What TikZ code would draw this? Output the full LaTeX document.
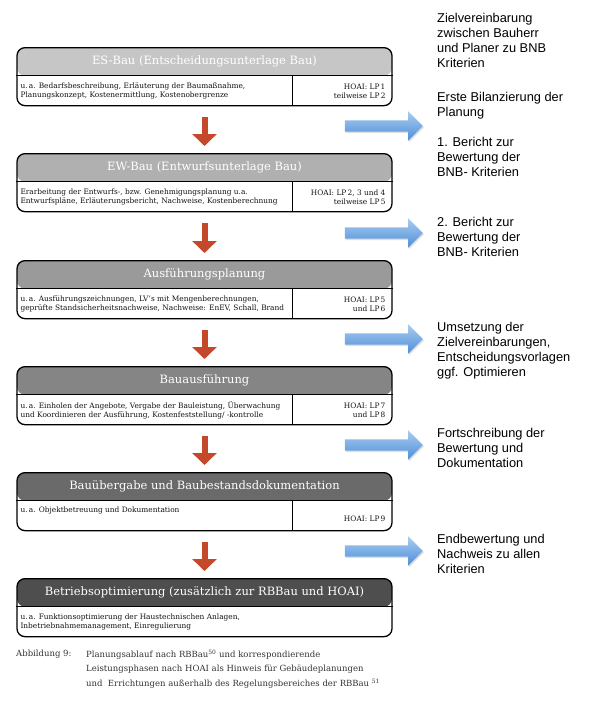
\documentclass[tikz,border=0pt]{standalone}
\usepackage{fontspec}
\setmainfont{DejaVu Serif}
\newfontfamily\arialfont{Liberation Sans}
\usetikzlibrary{arrows.meta, shapes.arrows, shadows}

\definecolor{grau1}{HTML}{C6C6C6}
\definecolor{grau2}{HTML}{B0B0B0}
\definecolor{grau3}{HTML}{9A9A9A}
\definecolor{grau4}{HTML}{858585}
\definecolor{grau5}{HTML}{6A6A6A}
\definecolor{grau6}{HTML}{4E4E4E}
\definecolor{rot}{HTML}{C4492B}
\definecolor{blauhell}{HTML}{A9CDF1}
\definecolor{blaudunkel}{HTML}{4E8ED8}
\definecolor{schrift}{HTML}{111111}

\begin{document}
\begin{tikzpicture}[x=1pt, y=-1pt,
	phase/.style={draw, line width=1.3pt, rounded corners=8pt, fill=white, minimum width=375pt, minimum height=58pt, inner sep=0pt,
		path picture={\fill[#1] (path picture bounding box.north west) rectangle ([yshift=-28pt]path picture bounding box.north east);}},
	linie/.style={line width=1pt},
	titel/.style={text=white, font=\fontsize{11.5}{13}\selectfont},
	links/.style={anchor=west, align=left, inner sep=1pt, text=schrift, font=\fontsize{7.4}{9.2}\selectfont},
	rechts/.style={anchor=east, align=right, inner sep=1pt, text=schrift, font=\fontsize{7.4}{9.2}\selectfont},
	rotpfeil/.style={draw=rot, line width=6pt, -{Triangle[width=24pt, length=12pt]}, shorten <=11pt, shorten >=7pt},
	blaupfeil/.style={single arrow, draw=none, top color=blauhell, bottom color=blaudunkel, minimum height=78pt, inner sep=5.5pt, single arrow head extend=9pt,
		drop shadow={opacity=0.25, shadow xshift=1pt, shadow yshift=-1.5pt}},
	ziel/.style={anchor=north west, align=left, inner sep=0pt, text=black, font=\arialfont\fontsize{12.8}{15}\selectfont},
	unterschrift/.style={anchor=north west, align=left, inner sep=0pt, text=black!80, font=\fontsize{8.5}{14.5}\selectfont}]

	\useasboundingbox (0,0) rectangle (600,704);

	% Phasen
	\node [phase=grau1, anchor=north] (es) at (204.5,47) {};
	\node [titel] (es-titel) at ([yshift=-14pt]es.north) {ES-Bau (Entscheidungsunterlage Bau)};
	\draw [linie] ([yshift=-28pt]es.north west) -- ([yshift=-28pt]es.north east);
	\draw [linie] ([xshift=-100pt, yshift=-28pt]es.north east) -- ([xshift=-100pt]es.south east);
	\node [links] (es-text) at ([xshift=3pt, yshift=15pt]es.south west) {u.\,a. Bedarfsbeschreibung, Erläuterung der Baumaßnahme,\\Planungskonzept, Kostenermittlung, Kostenobergrenze};
	\node [rechts] (es-hoai) at ([xshift=-6pt, yshift=15pt]es.south east) {HOAI: LP\,1\\teilweise LP\,2};

	\node [phase=grau2, anchor=north] (ew) at (204.5,153) {};
	\node [titel] (ew-titel) at ([yshift=-14pt]ew.north) {EW-Bau (Entwurfsunterlage Bau)};
	\draw [linie] ([yshift=-28pt]ew.north west) -- ([yshift=-28pt]ew.north east);
	\draw [linie] ([xshift=-100pt, yshift=-28pt]ew.north east) -- ([xshift=-100pt]ew.south east);
	\node [links] (ew-text) at ([xshift=3pt, yshift=15pt]ew.south west) {Erarbeitung der Entwurfs-, bzw. Genehmigungsplanung u.a.\\Entwurfspläne, Erläuterungsbericht, Nachweise, Kostenberechnung};
	\node [rechts] (ew-hoai) at ([xshift=-6pt, yshift=15pt]ew.south east) {HOAI: LP\,2, 3 und 4\\teilweise LP\,5};

	\node [phase=grau3, anchor=north] (ap) at (204.5,260) {};
	\node [titel] (ap-titel) at ([yshift=-14pt]ap.north) {Ausführungsplanung};
	\draw [linie] ([yshift=-28pt]ap.north west) -- ([yshift=-28pt]ap.north east);
	\draw [linie] ([xshift=-100pt, yshift=-28pt]ap.north east) -- ([xshift=-100pt]ap.south east);
	\node [links] (ap-text) at ([xshift=3pt, yshift=15pt]ap.south west) {u.\,a. Ausführungszeichnungen, LV's mit Mengenberechnungen,\\geprüfte Standsicherheitsnachweise, Nachweise: EnEV, Schall, Brand};
	\node [rechts] (ap-hoai) at ([xshift=-6pt, yshift=15pt]ap.south east) {HOAI: LP\,5\\und LP\,6};

	\node [phase=grau4, anchor=north] (ba) at (204.5,366) {};
	\node [titel] (ba-titel) at ([yshift=-14pt]ba.north) {Bauausführung};
	\draw [linie] ([yshift=-28pt]ba.north west) -- ([yshift=-28pt]ba.north east);
	\draw [linie] ([xshift=-100pt, yshift=-28pt]ba.north east) -- ([xshift=-100pt]ba.south east);
	\node [links] (ba-text) at ([xshift=3pt, yshift=15pt]ba.south west) {u.\,a. Einholen der Angebote, Vergabe der Bauleistung, Überwachung\\und Koordinieren der Ausführung, Kostenfeststellung/ -kontrolle};
	\node [rechts] (ba-hoai) at ([xshift=-6pt, yshift=15pt]ba.south east) {HOAI: LP\,7\\und LP\,8};

	\node [phase=grau5, anchor=north] (bu) at (204.5,472) {};
	\node [titel] (bu-titel) at ([yshift=-14pt]bu.north) {Bauübergabe und Baubestandsdokumentation};
	\draw [linie] ([yshift=-28pt]bu.north west) -- ([yshift=-28pt]bu.north east);
	\draw [linie] ([xshift=-100pt, yshift=-28pt]bu.north east) -- ([xshift=-100pt]bu.south east);
	\node [links] (bu-text) at ([xshift=3pt, yshift=21pt]bu.south west) {u.\,a. Objektbetreuung und Dokumentation};
	\node [rechts] (bu-hoai) at ([xshift=-6pt, yshift=13pt]bu.south east) {HOAI: LP\,9};

	\node [phase=grau6, anchor=north] (bo) at (204.5,578) {};
	\node [titel] (bo-titel) at ([yshift=-14pt]bo.north) {Betriebsoptimierung (zusätzlich zur RBBau und HOAI)};
	\draw [linie] ([yshift=-28pt]bo.north west) -- ([yshift=-28pt]bo.north east);
	\node [links] (bo-text) at ([xshift=3pt, yshift=15pt]bo.south west) {u.\,a. Funktionsoptimierung der Haustechnischen Anlagen,\\Inbetriebnahmemanagement, Einregulierung};

	% Ablauf
	\draw [rotpfeil] (es) -- (ew);
	\draw [rotpfeil] (ew) -- (ap);
	\draw [rotpfeil] (ap) -- (ba);
	\draw [rotpfeil] (ba) -- (bu);
	\draw [rotpfeil] (bu) -- (bo);

	% BNB
	\node [blaupfeil] (bnb1) at (381,126) {};
	\node [blaupfeil] (bnb2) at (381,233) {};
	\node [blaupfeil] (bnb3) at (381,339) {};
	\node [blaupfeil] (bnb4) at (381,445) {};
	\node [blaupfeil] (bnb5) at (381,551) {};

	\node [ziel] (ziel) at (437,13) {Zielvereinbarung\\zwischen Bauherr\\und Planer zu BNB\\Kriterien};
	\node [ziel] (bilanz) at (437,92) {Erste Bilanzierung der\\Planung};
	\node [ziel] (bericht1) at (437,137) {1. Bericht zur\\Bewertung der\\BNB- Kriterien};
	\node [ziel] (bericht2) at (437,217) {2. Bericht zur\\Bewertung der\\BNB- Kriterien};
	\node [ziel] (umsetzung) at (437,322) {Umsetzung der\\Zielvereinbarungen,\\Entscheidungsvorlagen\\ggf. Optimieren};
	\node [ziel] (fortschr) at (437,428) {Fortschreibung der\\Bewertung und\\Dokumentation};
	\node [ziel] (endbew) at (437,534) {Endbewertung und\\Nachweis zu allen\\Kriterien};

	% Abbildung
	\node [unterschrift] (abb) at (16,650) {Abbildung 9:};
	\node [unterschrift] (abb-text) at (86,650) {Planungsablauf nach RBBau\textsuperscript{50} und korrespondierende\\Leistungsphasen nach HOAI als Hinweis für Gebäudeplanungen\\und~ Errichtungen außerhalb des Regelungsbereiches der RBBau~\textsuperscript{51}};
\end{tikzpicture}
\end{document}
